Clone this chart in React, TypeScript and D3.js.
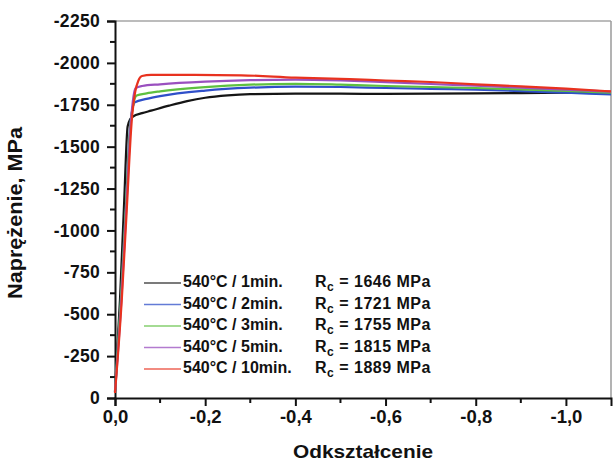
import React, { useRef, useEffect } from "react";
import * as d3 from "d3";

// strain / stress pairs
const s1min: [number, number][] = [
  [0, -40], [-0.011, -585], [-0.02, -1150], [-0.028, -1620], [-0.034, -1665], [-0.04, -1680],
  [-0.06, -1700], [-0.08, -1715], [-0.12, -1745], [-0.16, -1772], [-0.2, -1792], [-0.25, -1806],
  [-0.3, -1813], [-0.4, -1816], [-0.5, -1816], [-0.6, -1815], [-0.7, -1816], [-0.8, -1818],
  [-0.9, -1820], [-1.0, -1822], [-1.1, -1824],
];
const s2min: [number, number][] = [
  [0, -35], [-0.013, -580], [-0.024, -1130], [-0.033, -1600], [-0.039, -1730], [-0.044, -1765],
  [-0.07, -1785], [-0.1, -1802], [-0.2, -1835], [-0.3, -1852], [-0.4, -1858], [-0.5, -1856],
  [-0.6, -1850], [-0.7, -1845], [-0.8, -1840], [-0.9, -1832], [-1.0, -1822], [-1.1, -1812],
];
const s3min: [number, number][] = [
  [0, -35], [-0.013, -580], [-0.024, -1130], [-0.034, -1620], [-0.042, -1770], [-0.048, -1805],
  [-0.07, -1818], [-0.1, -1830], [-0.2, -1855], [-0.3, -1870], [-0.4, -1875], [-0.5, -1870],
  [-0.6, -1862], [-0.7, -1856], [-0.8, -1850], [-0.9, -1842], [-1.0, -1833], [-1.1, -1822],
];
const s5min: [number, number][] = [
  [0, -35], [-0.014, -580], [-0.025, -1130], [-0.035, -1640], [-0.041, -1800], [-0.046, -1850],
  [-0.06, -1862], [-0.1, -1872], [-0.2, -1888], [-0.3, -1897], [-0.4, -1900], [-0.5, -1895],
  [-0.6, -1885], [-0.7, -1874], [-0.8, -1864], [-0.9, -1852], [-1.0, -1840], [-1.1, -1828],
];
const s10min: [number, number][] = [
  [0, -30], [-0.015, -585], [-0.026, -1120], [-0.037, -1650], [-0.045, -1830], [-0.052, -1895],
  [-0.06, -1922], [-0.08, -1928], [-0.15, -1929], [-0.28, -1926], [-0.4, -1912], [-0.52, -1903],
  [-0.6, -1895], [-0.7, -1886], [-0.8, -1872], [-0.9, -1860], [-1.0, -1846], [-1.1, -1830],
];

const seriesData = [s1min, s2min, s3min, s5min, s10min];
const seriesLabels = ["540°C / 1min.", "540°C / 2min.", "540°C / 3min.", "540°C / 5min.", "540°C / 10min."];
const rcValues = [1646, 1721, 1755, 1815, 1889];
const colors = ["#151515", "#2f4fc9", "#5ec040", "#9a50bf", "#e8321f"];

const yTicks = [0, -250, -500, -750, -1000, -1250, -1500, -1750, -2000, -2250];
const xTicks = [0, -0.2, -0.4, -0.6, -0.8, -1.0];

const W = 614;
const H = 462;
const font = "'Liberation Sans', Arial, sans-serif";

export default function App() {
  const ref = useRef<SVGSVGElement>(null);

  useEffect(() => {
    const svg = d3.select(ref.current);
    svg.selectAll("*").remove();

    const left = 115, right = 611, top = 21, bottom = 398;
    const x = d3.scaleLinear().domain([0, -1.1]).range([left, right]);
    const y = d3.scaleLinear().domain([0, -2250]).range([bottom, top]);

    // frame (top / right)
    svg.append("line").attr("x1", left).attr("x2", right).attr("y1", top).attr("y2", top)
      .attr("stroke", "#7a7a7a").attr("stroke-width", 1.2);
    svg.append("line").attr("x1", right).attr("x2", right).attr("y1", top).attr("y2", bottom)
      .attr("stroke", "#9a9a9a").attr("stroke-width", 1.5);

    const fmtY = (d: number) => (d === 0 ? "0" : "-" + Math.abs(d));
    const fmtX = (d: number) => (d === 0 ? "0,0" : "-" + Math.abs(d).toFixed(1).replace(".", ","));

    // minor ticks
    const yMinor = d3.range(0, 18).map((i) => -125 - i * 250).filter((v) => v > -2250);
    const xMinor = [-0.1, -0.3, -0.5, -0.7, -0.9];

    const yAxis = svg.append("g").attr("transform", `translate(${left},0)`)
      .call(d3.axisLeft(y).tickValues(yTicks).tickFormat((d) => fmtY(+d)).tickSize(8).tickPadding(7));
    yAxis.select(".domain").attr("stroke", "#111").attr("stroke-width", 2);
    yAxis.selectAll(".tick line").attr("stroke", "#111").attr("stroke-width", 2);
    yAxis.selectAll("text").attr("font-family", font).attr("font-weight", "bold")
      .attr("font-size", 17.5).attr("letter-spacing", 0.3).attr("fill", "#111");
    svg.append("g").selectAll("line").data(yMinor).join("line")
      .attr("x1", left - 5).attr("x2", left).attr("y1", (d) => y(d)).attr("y2", (d) => y(d))
      .attr("stroke", "#111").attr("stroke-width", 2);

    const xAxis = svg.append("g").attr("transform", `translate(0,${bottom})`)
      .call(d3.axisBottom(x).tickValues(xTicks).tickFormat((d) => fmtX(+d)).tickSize(8).tickPadding(4));
    xAxis.select(".domain").attr("stroke", "#111").attr("stroke-width", 2);
    xAxis.selectAll(".tick line").attr("stroke", "#111").attr("stroke-width", 2);
    xAxis.selectAll("text").attr("font-family", font).attr("font-weight", "bold")
      .attr("font-size", 18.5).attr("fill", "#111");
    svg.append("g").selectAll("line").data(xMinor).join("line")
      .attr("x1", (d) => x(d)).attr("x2", (d) => x(d)).attr("y1", bottom).attr("y2", bottom + 5)
      .attr("stroke", "#111").attr("stroke-width", 2);

    // curves
    const line = d3.line<[number, number]>()
      .x((d) => x(d[0]))
      .y((d) => y(d[1]))
      .curve(d3.curveMonotoneX);
    svg.append("g").selectAll("path").data(seriesData).join("path")
      .attr("d", (d) => line(d))
      .attr("fill", "none")
      .attr("stroke", (_, i) => colors[i])
      .attr("stroke-width", 2.2);

    // legend
    const lg = svg.append("g").selectAll("g").data(seriesLabels).join("g")
      .attr("transform", (_, i) => `translate(0,${287 + i * 21.5})`);
    lg.append("line").attr("x1", 144).attr("x2", 181).attr("y1", -4).attr("y2", -4)
      .attr("stroke", (_, i) => colors[i]).attr("stroke-width", 1.6).attr("opacity", 0.75);
    lg.append("text").attr("x", 183).attr("font-family", font).attr("font-weight", "bold")
      .attr("font-size", 16).attr("fill", "#111").text((d) => d);
    const rc = lg.append("text").attr("x", 315).attr("font-family", font).attr("font-weight", "bold")
      .attr("font-size", 16).attr("letter-spacing", 0.5).attr("fill", "#111");
    rc.append("tspan").text("R");
    rc.append("tspan").attr("font-size", 12).attr("dy", 4).text("c");
    rc.append("tspan").attr("dy", -4).text((_, i) => ` = ${rcValues[i]} MPa`);

    // axis titles
    svg.append("text").attr("x", 363).attr("y", 458).attr("text-anchor", "middle")
      .attr("font-family", font).attr("font-weight", "bold").attr("font-size", 19)
      .attr("textLength", 140).attr("lengthAdjust", "spacingAndGlyphs")
      .attr("fill", "#111").text("Odkształcenie");
    svg.append("text").attr("transform", "translate(22,213) rotate(-90)").attr("text-anchor", "middle")
      .attr("font-family", font).attr("font-weight", "bold").attr("font-size", 20)
      .attr("textLength", 172).attr("lengthAdjust", "spacingAndGlyphs")
      .attr("fill", "#111").text("Naprężenie, MPa");
  }, []);

  return (
    <div style={{ position: "absolute", left: 0, top: 0 }}>
      <svg ref={ref} width={W} height={H} style={{ display: "block", background: "#fff" }} />
    </div>
  );
}
